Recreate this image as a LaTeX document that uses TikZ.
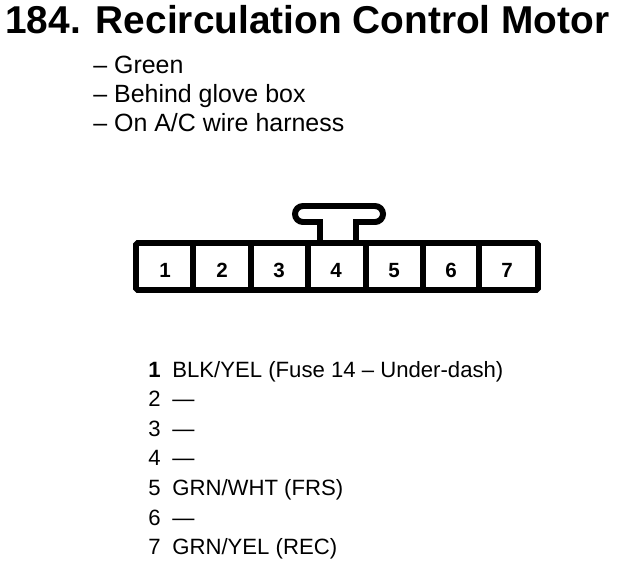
\documentclass[tikz,border=0pt]{standalone}
\usepackage{fontspec}
\setmainfont{Liberation Sans}
\tikzset{
  titletext/.style={anchor=base west,inner sep=0pt,font=\fontsize{22.1}{24}\selectfont\bfseries},
  bodytext/.style={anchor=base west,inner sep=0pt,font=\fontsize{14.2}{16}\selectfont},
  wiretext/.style={anchor=base west,inner sep=0pt,font=\fontsize{12.6}{15}\selectfont},
  pinnum/.style={anchor=base,inner sep=0pt,font=\fontsize{11.7}{14}\selectfont\bfseries},
  housing/.style={line width=3.4pt}
}
\begin{document}
\begin{tikzpicture}[x=0.02cm,y=-0.02cm]

% Fix the page size
\useasboundingbox (0,0) rectangle (624,572);

% Title
\node[titletext] (title) at (5,33) {184.\hspace{3mm}Recirculation Control Motor};

% Location notes
\node[bodytext] (noteA) at (93,73) {– Green};
\node[bodytext] (noteB) at (93,102) {– Behind glove box};
\node[bodytext] (noteC) at (93,131) {– On A/C wire harness};

% Connector tab
\draw[housing] (320,243) -- (320,222) -- (303,222)
  arc (90:270:8) -- (375,206) arc (270:450:8) -- (356,222) -- (356,243);

% Connector body
\draw[housing,rounded corners=1pt] (136,243) rectangle (538,290);

% Cell dividers
\foreach \x in {193,251,308,366,423,479}
  \draw[housing] (\x,243) -- (\x,290);

% Pin numbers
\foreach \n/\x in {1/165,2/222,3/279,4/336,5/394,6/451,7/507}
  \node[pinnum] (cell\n) at (\x,277) {\n};

% Wire list
\node[wiretext] (pin1) at (148,377) {\textbf{1}};
\node[wiretext] (wire1) at (172,377) {BLK/YEL (Fuse 14 – Under-dash)};
\foreach \n/\y/\wire in {2/406.6/—,3/436.2/—,4/465.8/—,
    5/495.4/{GRN/WHT (FRS)},6/525/—,7/554.6/{GRN/YEL (REC)}}{
  \node[wiretext] (pin\n) at (148,\y) {\n};
  \node[wiretext] (wire\n) at (172,\y) {\wire};
}

\end{tikzpicture}
\end{document}
